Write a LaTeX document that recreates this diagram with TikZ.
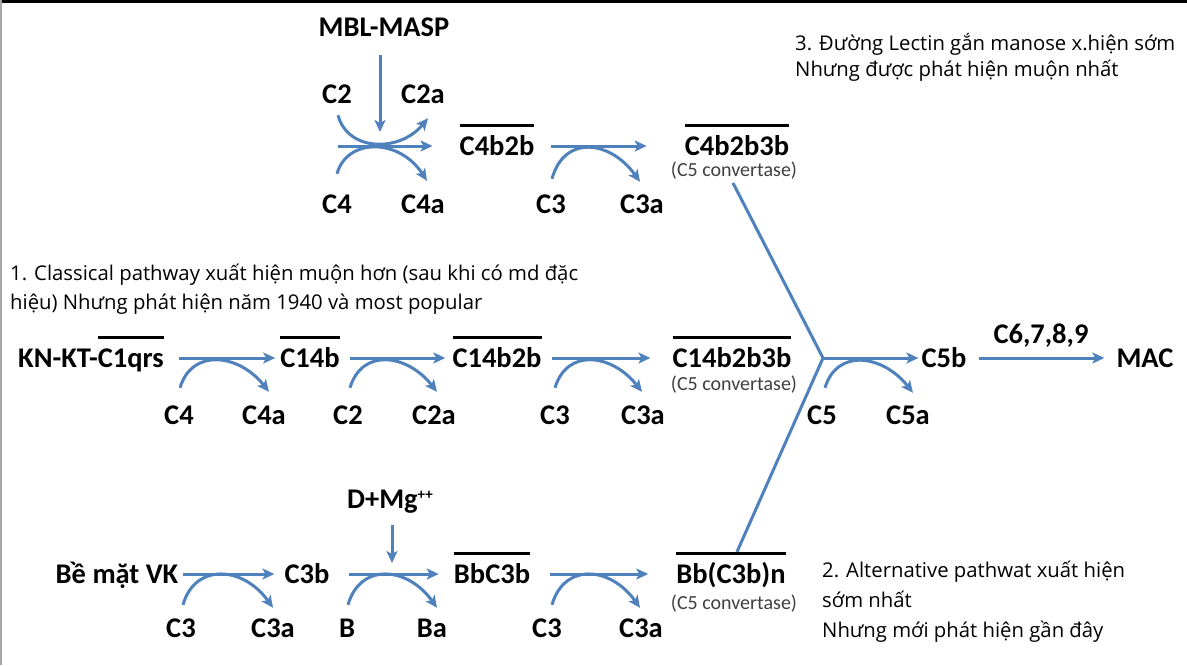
\documentclass[tikz,border=0pt]{standalone}
\usepackage{fontspec}
\setmainfont{Carlito}
\newfontfamily\notefont{Open Sans}
\usetikzlibrary{arrows.meta}
\definecolor{pblue}{RGB}{79,129,189}
\definecolor{cgray}{RGB}{64,64,64}
\newsavebox\ovlbox
\newcommand\ovl[1]{\sbox\ovlbox{#1}\rlap{\raisebox{28.5pt}{\rule{\wd\ovlbox}{3pt}}}\usebox\ovlbox}
\newcommand\supplus{\raisebox{9pt}{\fontsize{15}{16}\selectfont ++}}
\begin{document}
\begin{tikzpicture}[x=1pt,y=-1pt,
  lbl/.style={font=\bfseries\fontsize{28.5}{30}\selectfont, inner sep=0pt, text height=18pt, text depth=0pt},
  conv/.style={font=\fontsize{20}{22}\selectfont, text=cgray, inner sep=0pt, anchor=base},
  note/.style={font=\notefont\fontsize{20.3}{24}\selectfont, text=black, inner sep=0pt, anchor=base west},
  flow/.style={draw=pblue, line width=3pt, -{Stealth[length=12pt,width=11pt,inset=3pt]}},
  plain/.style={draw=pblue, line width=3pt, line join=round},
]
\useasboundingbox (0,0) rectangle (1187,665);
\fill[white] (0,0) rectangle (1187,665);
\draw[black, line width=2.5pt] (0,1.25) -- (1187,1.25);
\draw[black!35, line width=2pt] (1,0) -- (1,665);

% ---------- Lectin pathway (top) ----------
\node[lbl] (mbl) at (384,27) {MBL-MASP};
\node[lbl] (c2t) at (337,94) {C2};
\node[lbl] (c2at) at (423,94) {C2a};
\node[lbl] (c4t) at (337,204) {C4};
\node[lbl] (c4at) at (423,204) {C4a};
\node[lbl] (c4b2b) at (497,146) {\ovl{C4b2b}};
\node[lbl] (c3t) at (551,204) {C3};
\node[lbl] (c3at) at (642,204) {C3a};
\node[lbl] (c4b2b3b) at (737,146) {\ovl{C4b2b3b}};
\node[conv] (cv1) at (734,176) {(C5 convertase)};
\coordinate (lin) at (338,146);
\coordinate (lhub) at (380,146);

\draw[flow] ([xshift=-4pt,yshift=-19pt]mbl.south) -- ([yshift=14pt]lhub);
\draw[flow] (lin) -- ([xshift=-27pt]c4b2b.west);
\draw[flow] ([xshift=1pt,yshift=-12pt]c2t.south) .. controls +(10,37) and +(-28,34) .. ([xshift=5pt,yshift=-15pt]c2at.south);
\draw[flow] ([yshift=21pt]c4t.north) .. controls +(10,-36) and +(-28,-43) .. ([xshift=4pt,yshift=14pt]c4at.north);
\draw[flow] ([xshift=17pt]c4b2b.east) -- ([xshift=-38pt]c4b2b3b.west);
\draw[flow] ([xshift=1pt,yshift=16pt]c3t.north) .. controls +(12,-44) and +(-30,-42) .. ([xshift=-2pt,yshift=13pt]c3at.north);

% ---------- Classical pathway (middle) ----------
\node[lbl] (kn) at (91,358) {KN-KT-\ovl{C1qrs}};
\node[lbl] (c4m) at (179,415) {C4};
\node[lbl] (c4am) at (264,415) {C4a};
\node[lbl] (c14b) at (310,358) {\ovl{C14b}};
\node[lbl] (c2m) at (348,415) {C2};
\node[lbl] (c2am) at (434,415) {C2a};
\node[lbl] (c14b2b) at (497,358) {\ovl{C14b2b}};
\node[lbl] (c3m) at (555,415) {C3};
\node[lbl] (c3am) at (643,415) {C3a};
\node[lbl] (c14b2b3b) at (732,358) {\ovl{C14b2b3b}};
\node[conv] (cv2) at (734,390) {(C5 convertase)};

\draw[flow] ([xshift=15pt]kn.east) -- ([xshift=-5pt]c14b.west);
\draw[flow] ([xshift=1pt,yshift=18pt]c4m.north) .. controls +(12,-40) and +(-30,-38) .. ([xshift=5pt,yshift=14pt]c4am.north);
\draw[flow] ([xshift=10pt]c14b.east) -- ([xshift=-7pt]c14b2b.west);
\draw[flow] ([xshift=2pt,yshift=18pt]c2m.north) .. controls +(12,-40) and +(-30,-38) .. ([xshift=3pt,yshift=14pt]c2am.north);
\draw[flow] ([xshift=10pt]c14b2b.east) -- ([xshift=-22pt]c14b2b3b.west);
\draw[flow] ([xshift=0pt,yshift=18pt]c3m.north) .. controls +(12,-40) and +(-30,-38) .. ([xshift=-1pt,yshift=14pt]c3am.north);

% ---------- Terminal pathway ----------
\coordinate (junc) at (823,358);
\node[lbl] (c5) at (822,415) {C5};
\node[lbl] (c5a) at (908,415) {C5a};
\node[lbl] (c5b) at (944,358) {C5b};
\node[lbl] (c6789) at (1041,334) {C6,7,8,9};
\node[lbl] (mac) at (1145,358) {MAC};

% ---------- Alternative pathway (bottom) ----------
\node[lbl] (bemat) at (117,574) {Bề mặt VK};
\node[lbl] (c3b1) at (181,628) {C3};
\node[lbl] (c3ab1) at (273,628) {C3a};
\node[lbl] (c3b) at (307,574) {C3b};
\node[lbl] (dmg) at (390,499) {D+Mg\supplus};
\node[lbl] (bb) at (347,628) {B};
\node[lbl] (ba) at (432,628) {Ba};
\node[lbl] (bbc3b) at (492,574) {\ovl{BbC3b}};
\node[lbl] (c3b2) at (547,628) {C3};
\node[lbl] (c3ab2) at (641,628) {C3a};
\node[lbl] (bbn) at (731,574) {\ovl{Bb(C3b)n}};
\node[conv] (cv3) at (734,609) {(C5 convertase)};
\coordinate (ahub) at (392,574);

\draw[flow] ([xshift=5pt]bemat.east) -- ([xshift=-10pt]c3b.west);
\draw[flow] ([xshift=2pt,yshift=14pt]c3b1.north) .. controls +(12,-42) and +(-30,-42) .. ([xshift=0pt,yshift=11pt]c3ab1.north);
\draw[flow] ([xshift=19pt]c3b.east) -- ([xshift=-15pt]bbc3b.west);
\draw[flow] ([xshift=2pt,yshift=-17pt]dmg.south) -- ([yshift=11pt]ahub);
\draw[flow] ([xshift=1pt,yshift=14pt]bb.north) .. controls +(12,-42) and +(-30,-42) .. ([xshift=5pt,yshift=11pt]ba.north);
\draw[flow] ([xshift=20pt]bbc3b.east) -- ([xshift=-28pt]bbn.west);
\draw[flow] ([xshift=5pt,yshift=14pt]c3b2.north) .. controls +(12,-42) and +(-30,-42) .. ([xshift=-1pt,yshift=11pt]c3ab2.north);

% ---------- convergence to C5 ----------
\draw[plain] ([xshift=-1pt,yshift=-4pt]cv1.south) -- (junc) -- ([xshift=6pt,yshift=13pt]bbn.north);
\draw[flow] (junc) -- ([xshift=-3pt]c5b.west);
\draw[flow] ([xshift=3pt,yshift=18pt]c5.north) .. controls +(12,-40) and +(-30,-38) .. ([xshift=5pt,yshift=13pt]c5a.north);
\draw[flow] ([xshift=12pt]c5b.east) -- ([xshift=-12pt]mac.west);

% ---------- annotations ----------
\node[note] (n3a) at (795,50) {3. Đường Lectin gắn manose x.hiện sớm};
\node[note] (n3b) at (795,76) {Nhưng được phát hiện muộn nhất};
\node[note] (n1a) at (10,280) {1. Classical pathway xuất hiện muộn hơn (sau khi có md đặc};
\node[note] (n1b) at (10,309) {hiệu) Nhưng phát hiện năm 1940 và most popular};
\node[note] (n2a) at (822,577) {2. Alternative pathwat xuất hiện};
\node[note] (n2b) at (822,607) {sớm nhất};
\node[note] (n2c) at (822,637) {Nhưng mới phát hiện gần đây};
\end{tikzpicture}
\end{document}
